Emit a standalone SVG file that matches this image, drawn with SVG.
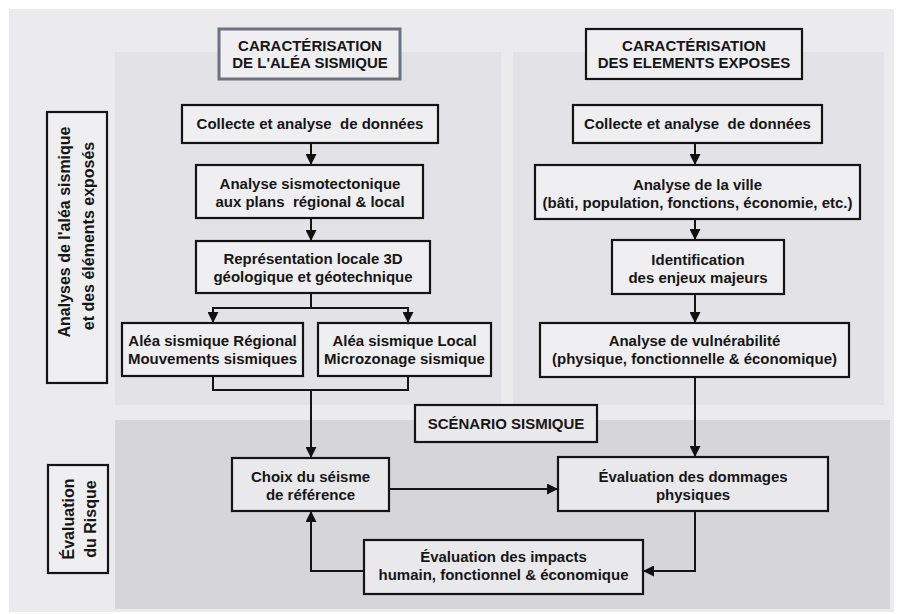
<svg xmlns="http://www.w3.org/2000/svg" width="902" height="614" viewBox="0 0 902 614">
<defs>
<marker id="ah" markerUnits="userSpaceOnUse" markerWidth="11" markerHeight="11" viewBox="0 0 11 11" refX="11" refY="5.5" orient="auto">
<path d="M0,0 L11,5.5 L0,11 z" fill="#111"/>
</marker>
</defs>
<style>
.box{fill:#efeff1;stroke:#141414;stroke-width:2.2}
.box2{fill:#e9e9eb;stroke:#141414;stroke-width:2.2}
.hdr1{fill:#efeff1;stroke:#6c7180;stroke-width:3}
.t{font-family:"Liberation Sans",Arial,sans-serif;font-weight:bold;font-size:15px;fill:#161616;text-anchor:middle}
.v{font-family:"Liberation Sans",Arial,sans-serif;font-weight:bold;font-size:16px;fill:#161616;text-anchor:middle}
.c{fill:none;stroke:#141414;stroke-width:2}
.a{fill:none;stroke:#141414;stroke-width:2;marker-end:url(#ah)}
</style>
<rect x="0" y="0" width="902" height="614" fill="#ffffff"/>
<rect x="9" y="9" width="885" height="603" fill="#ebebee"/>
<rect x="115" y="52" width="386" height="353" fill="#e2e2e7"/>
<rect x="513" y="52" width="371" height="353" fill="#e2e2e7"/>
<rect x="115" y="420" width="775" height="189" fill="#d6d6d9"/>

<g id="label-analyses">
<rect class="box" x="47" y="112" width="60" height="271" fill="#ececef"/>
<text class="v" transform="translate(70,232) rotate(-90)">Analyses de l'aléa sismique</text>
<text class="v" transform="translate(94,236) rotate(-90)">et des éléments exposés</text>
</g>
<g id="label-evaluation">
<rect class="box" x="48" y="465" width="60" height="108"/>
<text class="v" transform="translate(74,519) rotate(-90)">Évaluation</text>
<text class="v" transform="translate(96,519) rotate(-90)">du Risque</text>
</g>

<g id="connectors">
<line class="a" x1="311" y1="143" x2="311" y2="165"/>
<line class="a" x1="311" y1="218" x2="311" y2="241"/>
<polyline class="c" points="311,293 311,308"/>
<polyline class="c" points="213,308 408,308"/>
<line class="a" x1="213" y1="307" x2="213" y2="323"/>
<line class="a" x1="408" y1="307" x2="408" y2="323"/>
<polyline class="c" points="213,376 213,390 408,390 408,376"/>
<line class="a" x1="311" y1="390" x2="311" y2="458"/>
<line class="a" x1="695" y1="143" x2="695" y2="165"/>
<line class="a" x1="695" y1="219" x2="695" y2="240"/>
<line class="a" x1="695" y1="294" x2="695" y2="323"/>
<line class="a" x1="695" y1="377" x2="695" y2="457"/>
<line class="a" x1="389" y1="489" x2="558" y2="489"/>
<polyline class="a" points="695,511 695,571 643,571"/>
<polyline class="a" points="364,571 311,571 311,511"/>
</g>

<g id="hdr-alea">
<rect class="hdr1" x="219" y="29" width="181" height="50"/>
<text class="t" x="310" y="51">CARACTÉRISATION</text>
<text class="t" x="310" y="68">DE L'ALÉA SISMIQUE</text>
</g>
<g id="hdr-elements">
<rect class="box" x="586" y="29" width="216" height="50"/>
<text class="t" x="694" y="51">CARACTÉRISATION</text>
<text class="t" x="694" y="68">DES ELEMENTS EXPOSES</text>
</g>

<g id="collecte-l">
<rect class="box" x="182" y="105" width="256" height="38"/>
<text class="t" x="310" y="129" xml:space="preserve">Collecte et analyse  de données</text>
</g>
<g id="sismotectonique">
<rect class="box" x="196" y="165" width="227" height="53"/>
<text class="t" x="310" y="189">Analyse sismotectonique</text>
<text class="t" x="310" y="207" xml:space="preserve">aux plans  régional &amp; local</text>
</g>
<g id="representation">
<rect class="box" x="196" y="241" width="234" height="52"/>
<text class="t" x="313" y="264">Représentation locale 3D</text>
<text class="t" x="313" y="282">géologique et géotechnique</text>
</g>
<g id="alea-regional">
<rect class="box" x="122" y="323" width="181" height="53"/>
<text class="t" x="212.5" y="346">Aléa sismique Régional</text>
<text class="t" x="212.5" y="364">Mouvements sismiques</text>
</g>
<g id="alea-local">
<rect class="box" x="318" y="323" width="173" height="53"/>
<text class="t" x="404.5" y="346">Aléa sismique Local</text>
<text class="t" x="404.5" y="364">Microzonage sismique</text>
</g>
<g id="scenario">
<rect class="box2" x="415" y="405" width="182" height="37"/>
<text class="t" x="506" y="429">SCÉNARIO SISMIQUE</text>
</g>
<g id="choix">
<rect class="box2" x="232" y="458" width="157" height="53"/>
<text class="t" x="310.5" y="482">Choix du séisme</text>
<text class="t" x="310.5" y="500">de référence</text>
</g>

<g id="collecte-r">
<rect class="box" x="573" y="105" width="249" height="38"/>
<text class="t" x="697.5" y="129" xml:space="preserve">Collecte et analyse  de données</text>
</g>
<g id="ville">
<rect class="box" x="535" y="165" width="325" height="54"/>
<text class="t" x="697.5" y="190">Analyse de la ville</text>
<text class="t" x="697.5" y="208">(bâti, population, fonctions, économie, etc.)</text>
</g>
<g id="enjeux">
<rect class="box" x="612" y="240" width="172" height="54"/>
<text class="t" x="698" y="265">Identification</text>
<text class="t" x="698" y="283">des enjeux majeurs</text>
</g>
<g id="vulnerabilite">
<rect class="box" x="540" y="323" width="309" height="54"/>
<text class="t" x="694.5" y="346">Analyse de vulnérabilité</text>
<text class="t" x="694.5" y="364">(physique, fonctionnelle &amp; économique)</text>
</g>
<g id="dommages">
<rect class="box2" x="558" y="457" width="270" height="54"/>
<text class="t" x="693" y="482">Évaluation des dommages</text>
<text class="t" x="693" y="500">physiques</text>
</g>
<g id="impacts">
<rect class="box2" x="364" y="540" width="279" height="54"/>
<text class="t" x="503.5" y="562">Évaluation des impacts</text>
<text class="t" x="503.5" y="580">humain, fonctionnel &amp; économique</text>
</g>
</svg>
